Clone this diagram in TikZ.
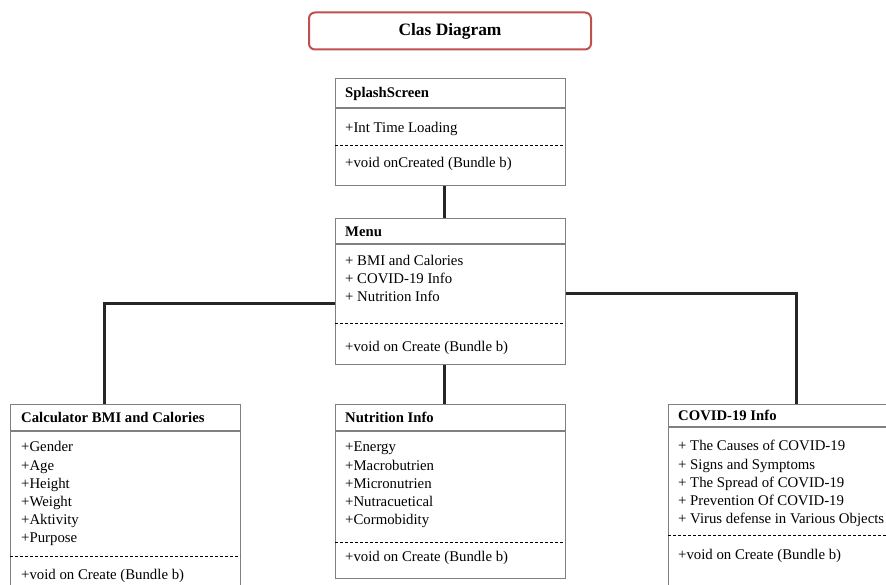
\documentclass[tikz,border=0pt]{standalone}
\usepackage{fontspec}
\setmainfont{Liberation Serif}
\definecolor{titlered}{RGB}{192,80,77}
\definecolor{boxgray}{RGB}{128,128,128}
\begin{document}
\begin{tikzpicture}[
    x=1pt, y=-1pt,
    font=\fontsize{14.8}{17}\selectfont,
    classbox/.style = {draw=boxgray, line width=1.1pt, anchor=north west, inner sep=0pt, minimum width=230pt},
    head/.style     = {anchor=west, inner sep=0pt, text height=12.5pt, text depth=1pt, font=\fontsize{14.7}{17}\selectfont\bfseries},
    attr/.style     = {anchor=west, inner sep=0pt, text height=12.5pt, text depth=1pt},
    sep/.style      = {draw=boxgray, line width=1.1pt},
    dsep/.style     = {draw=black, line width=0.9pt, dash pattern=on 3pt off 2pt},
    link/.style     = {draw=black!85, line width=2.2pt},
  ]
	\clip (0,0) rectangle (886,585);
	\fill[white] (0,0) rectangle (886,585);

	% Titel
	\node (T) at (450,31) [draw=titlered, line width=2pt, rounded corners=6pt, minimum width=282pt, minimum height=37pt, font=\fontsize{17.4}{20}\selectfont\bfseries]{Clas Diagram};

	% Klassen
	\node (SP) at (335,78)  [classbox, minimum height=107pt]{};
	\node (ME) at (335,218) [classbox, minimum height=146pt]{};
	\node (CA) at (10,404)  [classbox, minimum height=220pt]{};
	\node (NU) at (335,404) [classbox, minimum height=174pt]{};
	\node (CO) at (668,404) [classbox, minimum height=220pt]{};

	% SplashScreen
	\node (SPh) at (345,92)  [head]{SplashScreen};
	\draw[sep]  (335,108) -- (565,108);
	\node (SPa) at (345,127) [attr]{+Int Time Loading};
	\draw[dsep] (335,145) -- (565,145);
	\node (SPm) at (345,162) [attr]{+void onCreated (Bundle b)};

	% Menu
	\node (MEh) at (345,231) [head]{Menu};
	\draw[sep]  (335,244) -- (565,244);
	\node (MEa) at (345,260) [attr]{+ BMI and Calories};
	\node (MEb) at (345,278) [attr]{+ COVID-19 Info};
	\node (MEc) at (345,296) [attr]{+ Nutrition Info};
	\draw[dsep] (335,323) -- (565,323);
	\node (MEm) at (345,346) [attr]{+void on Create (Bundle b)};

	% Calculator BMI and Calories
	\node (CAh) at (21,417) [head]{Calculator BMI and Calories};
	\draw[sep]  (10,431) -- (240,431);
	\foreach \txt [count=\i] in {Gender,Age,Height,Weight,Aktivity,Purpose}
	  \node (CA\i) at (21,428+18.2*\i) [attr]{+\txt};
	\draw[dsep] (10,556) -- (240,556);
	\node (CAm) at (21,574) [attr]{+void on Create (Bundle b)};

	% Nutrition Info
	\node (NUh) at (345,417) [head]{Nutrition Info};
	\draw[sep]  (335,431) -- (565,431);
	\foreach \txt [count=\i] in {Energy,Macrobutrien,Micronutrien,Nutracuetical,Cormobidity}
	  \node (NU\i) at (345,428+18.2*\i) [attr]{+\txt};
	\draw[dsep] (335,542) -- (565,542);
	\node (NUm) at (345,556) [attr]{+void on Create (Bundle b)};

	% COVID-19 Info
	\node (COh) at (678,415) [head]{COVID-19 Info};
	\draw[sep]  (668,427) -- (898,427);
	\foreach \txt [count=\i] in {The Causes of COVID-19,Signs and Symptoms,The Spread of COVID-19,Prevention Of COVID-19,Virus defense in Various Objects}
	  \node (CO\i) at (678,427+18.2*\i) [attr]{+ \txt};
	\draw[dsep] (668,535) -- (898,535);
	\node (COm) at (678,554) [attr]{+void on Create (Bundle b)};

	% Verbindungen
	\draw[link] ([xshift=-6pt]SP.south) -- ([xshift=-6pt]ME.north);
	\draw[link] ([xshift=-6pt]ME.south) -- ([xshift=-6pt]NU.north);
	\draw[link] ([yshift=-12pt]ME.west) -| ([xshift=-21pt]CA.north);
	\draw[link] ([yshift=-2pt]ME.east) -| ([xshift=13pt]CO.north);
\end{tikzpicture}
\end{document}
